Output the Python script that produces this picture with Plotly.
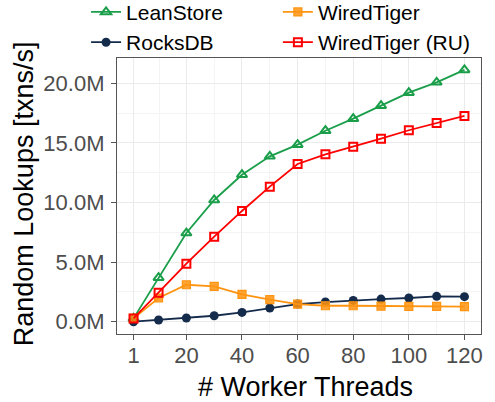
import plotly.graph_objects as go

threads = [1, 10, 20, 30, 40, 50, 60, 70, 80, 90, 100, 110, 120]
leanstore = [0.28, 3.69, 7.44, 10.21, 12.33, 13.87, 14.85, 16.02, 17.03, 18.12, 19.21, 20.08, 21.12]
wiredtiger = [0.28, 1.99, 3.10, 2.97, 2.30, 1.85, 1.48, 1.34, 1.34, 1.31, 1.29, 1.29, 1.26]
rocksdb = [0.00, 0.14, 0.31, 0.50, 0.78, 1.15, 1.48, 1.65, 1.79, 1.90, 1.99, 2.13, 2.10]
wiredtiger_ru = [0.28, 2.43, 4.87, 7.13, 9.29, 11.33, 13.23, 14.04, 14.68, 15.35, 16.06, 16.67, 17.26]

x_ticks = [1, 20, 40, 60, 80, 100, 120]
x_minor = [10.5, 30, 50, 70, 90, 110]
y_ticks = [0, 5, 10, 15, 20]
y_ticktext = ["0.0M", "5.0M", "10.0M", "15.0M", "20.0M"]
y_minor = [2.5, 7.5, 12.5, 17.5]

FONT = "Liberation Sans, Arial, sans-serif"
GREEN = "#1a9e4a"
ORANGE = "#ff9410"
NAVY = "#142b4c"
RED = "#ff0000"

fig = go.Figure()
fig.add_trace(go.Scatter(x=threads, y=leanstore, name="LeanStore", mode="lines+markers",
                         legend="legend", legendgroup="a",
                         line=dict(color=GREEN, width=1.8),
                         marker=dict(symbol="triangle-up-open", size=9, color=GREEN, line=dict(width=2, color=GREEN))))
fig.add_trace(go.Scatter(x=threads, y=rocksdb, name="RocksDB", mode="lines+markers",
                         legend="legend", legendgroup="b",
                         line=dict(color=NAVY, width=1.8),
                         marker=dict(symbol="circle", size=9, color=NAVY)))
fig.add_trace(go.Scatter(x=threads, y=wiredtiger, name="WiredTiger", mode="lines+markers",
                         legend="legend2", legendgroup="c",
                         line=dict(color=ORANGE, width=1.8),
                         marker=dict(symbol="square", size=8, color="rgba(255,148,16,0.85)", line=dict(width=1.2, color=ORANGE))))
fig.add_trace(go.Scatter(x=threads, y=wiredtiger_ru, name="WiredTiger (RU)", mode="lines+markers",
                         legend="legend2", legendgroup="d",
                         line=dict(color=RED, width=1.8),
                         marker=dict(symbol="square-open", size=8, color=RED, line=dict(width=2, color=RED))))

axis_common = dict(
    showline=True, mirror=True, linecolor="#555555", linewidth=1.2,
    ticks="outside", ticklen=5, tickcolor="#555555", tickwidth=1.2,
    tickfont=dict(family=FONT, size=22, color="#4d4d4d"),
    showgrid=True, gridcolor="#ebebeb", gridwidth=1.2, zeroline=False,
)

fig.update_xaxes(range=[-4.95, 125.95], tickmode="array", tickvals=x_ticks,
                 ticklabelstandoff=-4,
                 minor=dict(tickmode="array", tickvals=x_minor, showgrid=True, gridcolor="#f4f4f4", ticks=""),
                 **axis_common)
fig.update_yaxes(range=[-1.03, 22.12], tickmode="array", tickvals=y_ticks, ticktext=y_ticktext,
                 ticklabelstandoff=2,
                 minor=dict(tickmode="array", tickvals=y_minor, showgrid=True, gridcolor="#f4f4f4", ticks=""),
                 **axis_common)

fig.add_annotation(text="Random Lookups [txns/s]", xref="paper", yref="paper",
                   x=-0.257, y=0.508, xanchor="center", yanchor="middle", textangle=-90,
                   showarrow=False, font=dict(family=FONT, size=27, color="black"))
fig.add_annotation(text="# Worker Threads", xref="paper", yref="paper",
                   x=0.5165, y=-0.192, xanchor="center", yanchor="middle",
                   showarrow=False, font=dict(family=FONT, size=27, color="black"))

legend_common = dict(orientation="v", yref="paper", y=1.24, yanchor="top",
                     font=dict(family=FONT, size=21, color="black"),
                     bgcolor="rgba(0,0,0,0)", tracegroupgap=0, traceorder="grouped")

fig.update_layout(
    width=495, height=402,
    margin=dict(l=117, r=14, t=58, b=68, autoexpand=False),
    plot_bgcolor="white", paper_bgcolor="white",
    font=dict(family=FONT),
    legend=dict(x=-0.085, xanchor="left", **legend_common),
    legend2=dict(x=0.442, xanchor="left", **legend_common),
)

fig.write_html("out.html", config={"displayModeBar": False},
               post_script="document.body.style.margin='0px';")
